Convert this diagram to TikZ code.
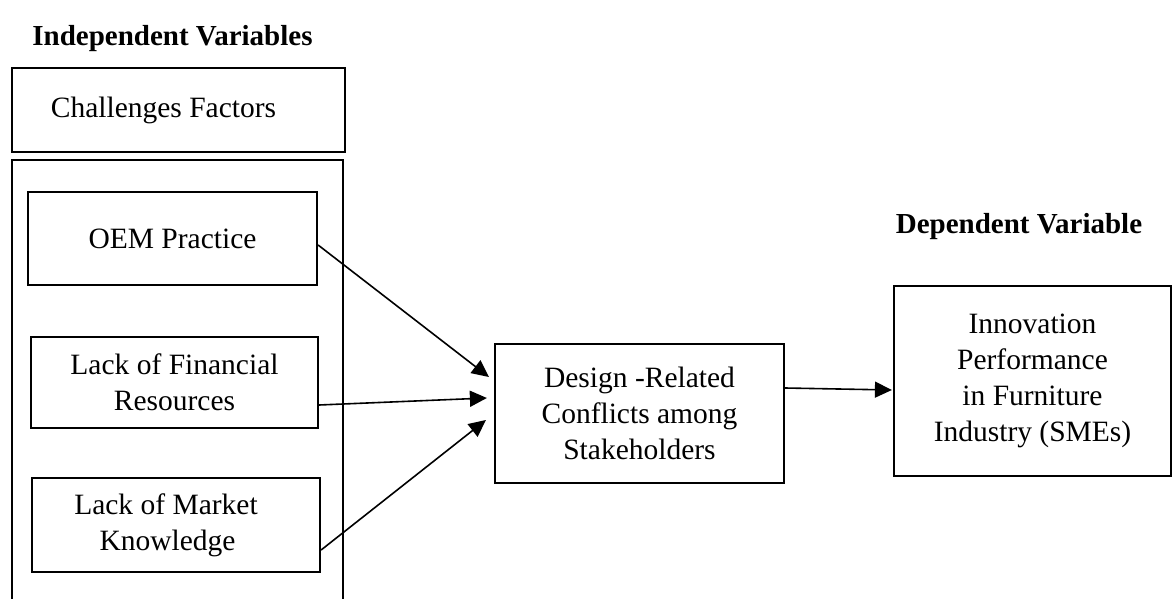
\documentclass[tikz,border=0pt]{standalone}
\usepackage{fontspec}
\setmainfont{Liberation Serif}
\usetikzlibrary{arrows.meta}
\begin{document}
\begin{tikzpicture}[x=1pt,y=-1pt,
  box/.style={draw, line width=2.2pt, rectangle, inner sep=0pt, align=center,
    font=\fontsize{29.5pt}{36pt}\selectfont},
  head/.style={anchor=base, font=\fontsize{29pt}{35pt}\selectfont\bfseries},
  conn/.style={line width=1.6pt, -{Triangle[length=17pt,width=16pt]}}]
\useasboundingbox (0,0) rectangle (1173,599);
% headings
\node[head] (indep) at (172.5,46) {Independent Variables};
\node[head] (dep) at (1019,233) {Dependent Variable};
% group frame (open at bottom, cut off)
\draw[line width=2.2pt] (12,600) -- (12,160) -- (343,160) -- (343,600);
% boxes
\node[box, minimum width=333pt, minimum height=84pt] (chal) at (178.5,110)
  {Challenges Factors\hspace*{30pt}};
\node[box, minimum width=289pt, minimum height=93pt] (oem) at (172.5,238.5)
  {OEM Practice};
\node[box, minimum width=287pt, minimum height=91pt] (fin) at (174.5,382.5)
  {Lack of Financial\\Resources};
\node[box, minimum width=288pt, minimum height=94pt] (mkt) at (176,525)
  {Lack of Market\hspace*{20pt}\\Knowledge\hspace*{17pt}};
\node[box, minimum width=289pt, minimum height=139pt] (design) at (639.5,413.5)
  {Design -Related\\Conflicts among\\Stakeholders};
\node[box, minimum width=277pt, minimum height=190pt] (innov) at (1032.5,381)
  {Innovation\\Performance\\in Furniture\\Industry (SMEs)};
% connectors
\draw[conn] ([yshift=-6.5pt]oem.east) -- ([xshift=-5pt,yshift=36.5pt]design.west);
\draw[conn] ([yshift=-22.5pt]fin.east) -- ([xshift=-7pt,yshift=15.5pt]design.west);
\draw[conn] ([yshift=-25pt]mkt.east) -- ([xshift=-8pt,yshift=-6.5pt]design.west);
\draw[conn] ([yshift=25.5pt]design.east) -- ([xshift=-1pt,yshift=-9pt]innov.west);
\end{tikzpicture}
\end{document}
